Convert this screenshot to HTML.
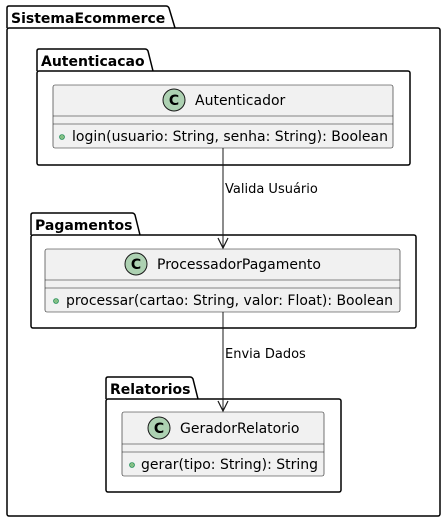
<!DOCTYPE html>
<html><head><meta charset="utf-8"><style>
html,body{margin:0;padding:0;background:#fff;}
svg{display:block;}
text{font-family:"DejaVu Sans","Liberation Sans",sans-serif;fill:#000;}
.pk{font-weight:bold;font-size:14px;}
.cn{font-size:14px;}
.m{font-size:14px;}
.l{font-size:13px;}
</style></head><body>
<svg width="446" height="522" viewBox="0 0 446 522" xmlns="http://www.w3.org/2000/svg">
<path d="M7,28 V8 Q7,6 9,6 H166 Q168,6 169,8 L175,28" fill="none" stroke="#000" stroke-width="1.5"/>
<rect x="7" y="28" width="433" height="488" rx="2" fill="none" stroke="#000" stroke-width="1.5"/>
<text class="pk" x="11" y="23">SistemaEcommerce</text>

<path d="M37,71 V51 Q37,49 39,49 H145 Q147,49 148,51 L153,71" fill="none" stroke="#000" stroke-width="1.5"/>
<rect x="37" y="71" width="373" height="94" rx="2" fill="none" stroke="#000" stroke-width="1.5"/>
<text class="pk" x="41" y="66">Autenticacao</text>

<rect x="53" y="85" width="340" height="63" rx="2" fill="#f1f1f1" stroke="#181818" stroke-width="0.6"/>
<line x1="53" y1="116" x2="393" y2="116" stroke="#181818" stroke-width="0.6"/>
<line x1="53" y1="124" x2="393" y2="124" stroke="#181818" stroke-width="0.6"/>
<circle cx="174" cy="100" r="11" fill="#add1b2" stroke="#181818" stroke-width="1"/>
<text x="174" y="105" text-anchor="middle" style="font-size:14px;font-weight:bold">C</text>
<text class="cn" x="195" y="105">Autenticador</text>
<circle cx="62" cy="137" r="2.5" fill="#84be84" stroke="#038048" stroke-width="0.6"/>
<text class="m" x="72" y="141" textLength="316" lengthAdjust="spacingAndGlyphs">login(usuario: String, senha: String): Boolean</text>

<path d="M31,235 V215 Q31,213 33,213 H132 Q134,213 135,215 L140,235" fill="none" stroke="#000" stroke-width="1.5"/>
<rect x="31" y="235" width="385" height="93" rx="2" fill="none" stroke="#000" stroke-width="1.5"/>
<text class="pk" x="35" y="230">Pagamentos</text>

<rect x="45" y="249" width="355" height="63" rx="2" fill="#f1f1f1" stroke="#181818" stroke-width="0.6"/>
<line x1="45" y1="280" x2="400" y2="280" stroke="#181818" stroke-width="0.6"/>
<line x1="45" y1="288" x2="400" y2="288" stroke="#181818" stroke-width="0.6"/>
<circle cx="136" cy="264" r="11" fill="#add1b2" stroke="#181818" stroke-width="1"/>
<text x="136" y="269" text-anchor="middle" style="font-size:14px;font-weight:bold">C</text>
<text class="cn" x="157" y="269">ProcessadorPagamento</text>
<circle cx="56" cy="301" r="2.5" fill="#84be84" stroke="#038048" stroke-width="0.6"/>
<text class="m" x="66" y="305" textLength="327" lengthAdjust="spacingAndGlyphs">processar(cartao: String, valor: Float): Boolean</text>

<path d="M106,399 V379 Q106,377 108,377 H190 Q192,377 193,379 L198,399" fill="none" stroke="#000" stroke-width="1.5"/>
<rect x="106" y="399" width="235" height="93" rx="2" fill="none" stroke="#000" stroke-width="1.5"/>
<text class="pk" x="110" y="394">Relatorios</text>

<rect x="122" y="412" width="202" height="64" rx="2" fill="#f1f1f1" stroke="#181818" stroke-width="0.6"/>
<line x1="122" y1="444" x2="324" y2="444" stroke="#181818" stroke-width="0.6"/>
<line x1="122" y1="452" x2="324" y2="452" stroke="#181818" stroke-width="0.6"/>
<circle cx="159" cy="428" r="11" fill="#add1b2" stroke="#181818" stroke-width="1"/>
<text x="159" y="433" text-anchor="middle" style="font-size:14px;font-weight:bold">C</text>
<text class="cn" x="180" y="433">GeradorRelatorio</text>
<circle cx="132" cy="465" r="2.5" fill="#84be84" stroke="#038048" stroke-width="0.6"/>
<text class="m" x="141" y="469" textLength="177" lengthAdjust="spacingAndGlyphs">gerar(tipo: String): String</text>

<line x1="223" y1="148" x2="223" y2="248" stroke="#181818" stroke-width="1"/>
<polyline points="218,238 223,248 228,238" fill="none" stroke="#181818" stroke-width="1.2"/>
<text class="l" x="225" y="193">Valida Usuário</text>
<line x1="223" y1="312" x2="223" y2="411" stroke="#181818" stroke-width="1"/>
<polyline points="218,401 223,411 228,401" fill="none" stroke="#181818" stroke-width="1.2"/>
<text class="l" x="225" y="358">Envia Dados</text>
</svg>
</body></html>
